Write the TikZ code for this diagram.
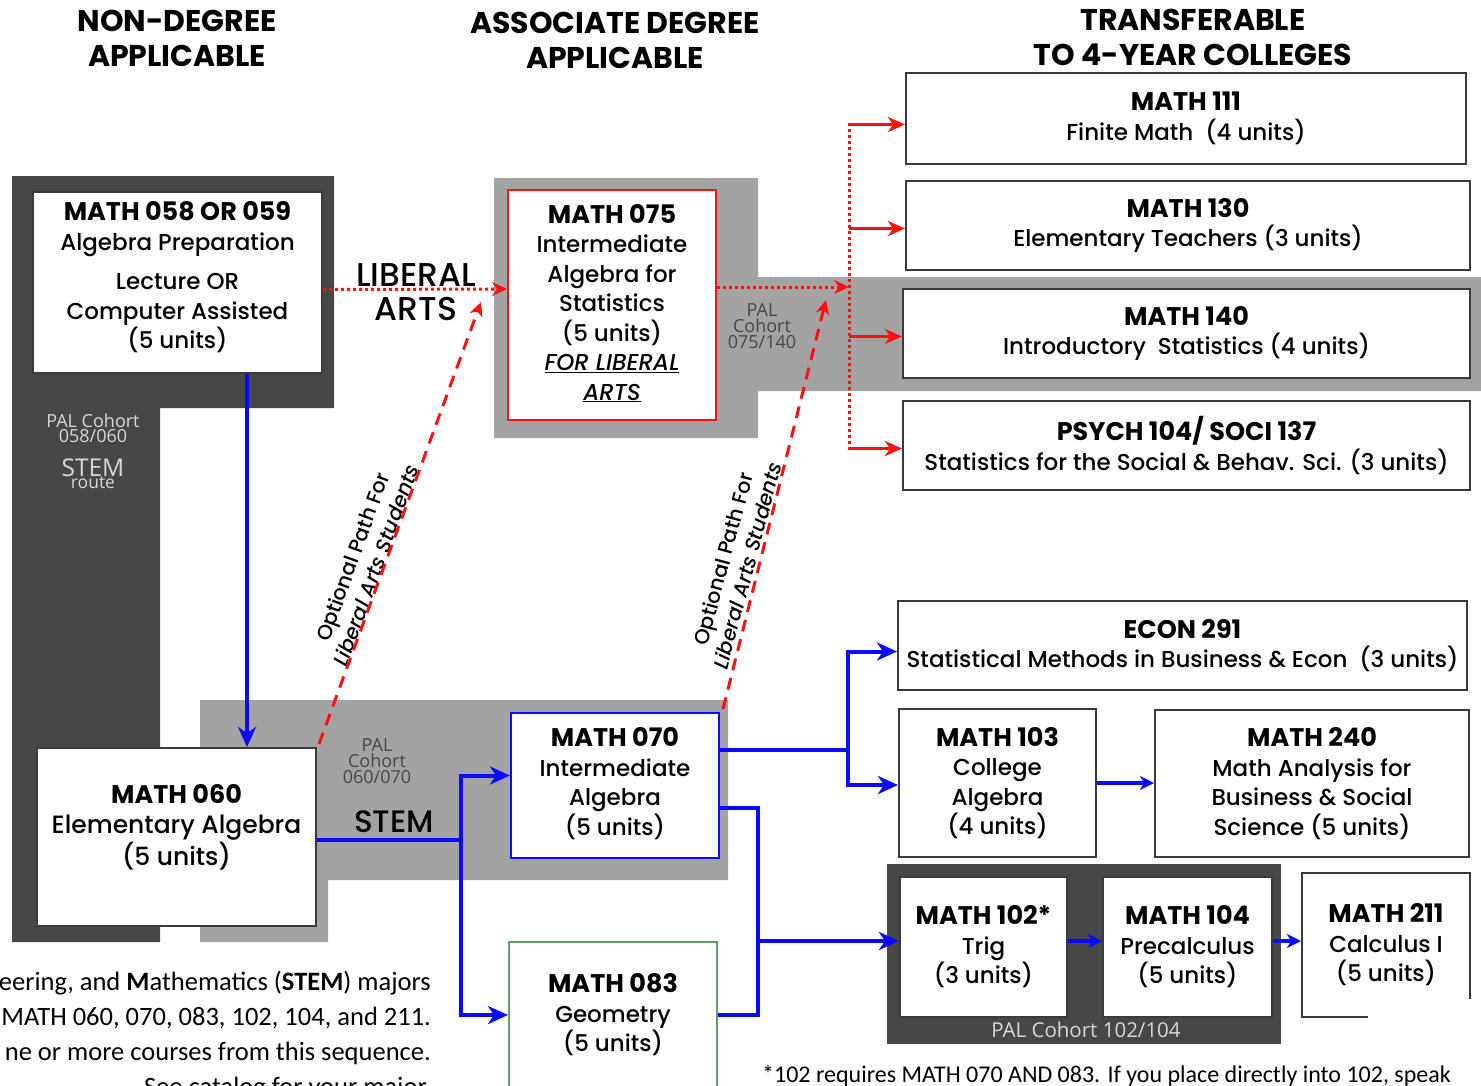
\documentclass[tikz,border=0pt]{standalone}
\usepackage{fontspec}
\setmainfont{Poppins}[UprightFont=* Medium, ItalicFont=* Medium Italic, BoldFont=* Bold]
\newfontfamily\calfont{Carlito}
\newfontfamily\palfont{Open Sans}
\usetikzlibrary{arrows.meta}
\usetikzlibrary{calc}

\definecolor{darkband}{HTML}{474747}
\definecolor{lightband}{HTML}{A3A3A3}
\definecolor{boxline}{HTML}{3A3A3A}
\definecolor{pathred}{HTML}{FF1010}
\definecolor{pathblue}{HTML}{0A0AFF}
\definecolor{geogreen}{HTML}{5E9E5E}
\definecolor{palgray}{HTML}{D8D8D8}

\newcommand{\crstitle}[1]{{\fontsize{25.5}{29.5}\selectfont\bfseries #1}}
\newcommand{\padlow}[1]{\rule[-#1]{0pt}{0pt}}

\begin{document}
\begin{tikzpicture}[line cap=butt,line join=miter,x=1pt,y=-1pt,
  course/.style={draw=boxline,line width=2pt,fill=white,align=center,inner sep=0pt,font=\fontsize{23}{29.5}\selectfont},
  bline/.style={draw=pathblue,line width=4pt},
  barrow/.style={bline,-{Stealth[length=20pt,width=18pt,inset=6pt]}},
  bshort/.style={bline,-{Stealth[length=14pt,width=14pt,inset=4pt]}},
  rdot/.style={draw=pathred,line width=3pt,dash pattern=on 3pt off 3pt},
  rarrow/.style={draw=pathred,line width=3pt,-{Stealth[length=17pt,width=15pt,inset=5pt]}},
  rdash/.style={draw=pathred,line width=3pt,dash pattern=on 12pt off 8pt},
  head/.style={font=\fontsize{30}{35}\selectfont\bfseries,align=center},
  pal/.style={align=center,inner sep=0pt}]
\useasboundingbox (0,0) rectangle (1481,1085);
\clip (0,0) rectangle (1481,1085);

% cohort bands
\fill[darkband] (12,176) -- (334,176) -- (334,408) -- (160,408) -- (160,942) -- (12,942) -- cycle;
\fill[lightband] (200,700) -- (728,700) -- (728,880) -- (328,880) -- (328,942) -- (200,942) -- cycle;
\fill[lightband] (494,178) -- (758,178) -- (758,277) -- (1481,277) -- (1481,391) -- (758,391) -- (758,438) -- (494,438) -- cycle;
\fill[darkband] (887,864) rectangle (1281,1044);

% column heads
\node[head] (hnon) at (177,38) {NON-DEGREE\\APPLICABLE};
\node[head] (hassoc) at (615,40) {ASSOCIATE DEGREE\\APPLICABLE};
\node[head] (htrans) at (1193,37) {TRANSFERABLE\\TO 4-YEAR COLLEGES};

% courses
\node[course,minimum width=289pt,minimum height=181pt] (m058) at (177.5,282.5) {\crstitle{MATH 058 OR 059}\\Algebra Preparation\\[10pt]Lecture OR\\Computer Assisted\\(5 units)\padlow{15pt}};
\node[course,draw=pathred,minimum width=208pt,minimum height=230pt] (m075) at (612,305) {\crstitle{MATH 075}\\Intermediate\\Algebra for\\Statistics\\(5 units)\\\underline{\textit{FOR LIBERAL}}\\\underline{\textit{ARTS}}\padlow{6pt}};
\node[course,minimum width=279pt,minimum height=178pt,font=\fontsize{25}{30}\selectfont] (m060) at (176.5,837) {\crstitle{MATH 060}\\Elementary Algebra\\(5 units)\padlow{24pt}};
\node[course,draw=pathblue,minimum width=208pt,minimum height=145pt] (m070) at (615,785.5) {\crstitle{MATH 070}\\Intermediate\\Algebra\\(5 units)\padlow{8pt}};
\node[course,draw=geogreen,minimum width=208pt,minimum height=146pt] (m083) at (613,1015) {\crstitle{MATH 083}\\Geometry\\(5 units)};

\node[course,minimum width=560pt,minimum height=91pt] (m111) at (1186,118.5) {\crstitle{MATH 111}\\Finite Math~~(4 units)};
\node[course,minimum width=564pt,minimum height=89pt] (m130) at (1188,225.5) {\crstitle{MATH 130}\\Elementary Teachers (3 units)};
\node[course,minimum width=567pt,minimum height=89pt] (m140) at (1186.5,333.5) {\crstitle{MATH 140}\\Introductory~~Statistics (4 units)};
\node[course,minimum width=567pt,minimum height=89pt] (p104) at (1186.5,445.5) {\crstitle{PSYCH 104/ SOCI 137}\\Statistics for the Social \& Behav. Sci. (3 units)};
\node[course,minimum width=569pt,minimum height=89pt] (e291) at (1182.5,645.5) {\crstitle{ECON 291}\\Statistical Methods in Business \& Econ~~(3 units)};
\node[course,minimum width=197pt,minimum height=148pt] (m103) at (997.5,783) {\crstitle{MATH 103}\\College\\Algebra\\(4 units)};
\node[course,minimum width=314pt,minimum height=147pt] (m240) at (1312,783.5) {\crstitle{MATH 240}\\Math Analysis for\\Business \& Social\\Science (5 units)};
\node[course,minimum width=167pt,minimum height=140pt] (m102) at (983.5,947) {\crstitle{MATH 102*}\\Trig\\(3 units)};
\node[course,minimum width=169pt,minimum height=140pt] (m104) at (1187.5,947) {\crstitle{MATH 104}\\Precalculus\\(5 units)};
\node[course,minimum width=168pt,minimum height=144pt] (m211) at (1386,945) {\crstitle{MATH 211}\\Calculus I\\(5 units)};
\fill[white] (1368,999) rectangle (1481,1030);

% labels
\node[font=\fontsize{33}{34}\selectfont,align=center] (libarts) at (416,292) {LIBERAL\\ARTS};
\node[font=\fontsize{31}{30}\selectfont] (stem) at (394,822) {STEM};
\node[pal,text=palgray,font=\palfont\fontsize{18}{15}\selectfont] (pal058) at (93,428) {PAL Cohort\\058/060};
\node[pal,text=palgray,font=\palfont] (stemroute) at (93,474) {\fontsize{24.5}{20}\selectfont STEM\\\fontsize{17.5}{15}\selectfont route};
\node[pal,text=darkband,font=\palfont\fontsize{18}{16}\selectfont] (pal075) at (762,326) {PAL\\Cohort\\075/140};
\node[pal,text=darkband,font=\palfont\fontsize{18}{16}\selectfont] (pal060) at (377,761) {PAL\\Cohort\\060/070};
\node[pal,text=palgray,font=\palfont\fontsize{20.5}{16}\selectfont] (pal102) at (1086,1030) {PAL Cohort 102/104};
\node[font=\fontsize{20.5}{25}\selectfont,align=center,rotate=70] (opt1) at (364,561) {Optional Path For\\\textit{Liberal Arts Students}};
\node[font=\fontsize{20.5}{25}\selectfont,align=center,rotate=75] (opt2) at (735,562) {Optional Path For\\\textit{Liberal Arts Students}};
\node[font=\calfont\fontsize{26.5}{35}\selectfont,anchor=north east,align=right,inner sep=0pt] (stemnote) at (431,971) {eering, and \textbf{M}athematics (\textbf{STEM}) majors\\MATH 060, 070, 083, 102, 104, and 211.\\ne or more courses from this sequence.\\See catalog for your major.};
\node[font=\calfont\fontsize{24}{26}\selectfont,anchor=west,inner sep=0pt] (trignote) at (762,1076) {*102 requires MATH 070 AND 083. If you place directly into 102, speak};

% STEM route
\coordinate (drop) at (247,0);
\coordinate (stemsplit) at (461,840);
\coordinate (bizsplit) at (848,750);
\coordinate (trigsplit) at (758,941);
\draw[barrow] (m058.south -| drop) -- (m060.north -| drop);
\draw[bline] (m060.east |- stemsplit) -- (stemsplit);
\draw[barrow] (stemsplit) |- ($(m070.west)+(0,-10)$);
\draw[barrow] (stemsplit) |- (m083.west);
\draw[bline] (m070.east |- bizsplit) -- (bizsplit);
\draw[barrow] (bizsplit) |- ($(e291.west)+(0,6)$);
\draw[barrow] (bizsplit) |- ($(m103.west)+(0,2)$);
\draw[bline] ($(m070.east)+(0,22)$) -| (trigsplit) |- (m083.east);
\draw[barrow] (trigsplit) -- (trigsplit -| m102.west);
\draw[bshort] (m103.east) -- (m103.east -| m240.west);
\draw[bshort] ($(m102.east)+(0,-6)$) -- ($(m104.west)+(0,-6)$);
\draw[bshort] ($(m104.east)+(0,-6)$) -- ($(m211.west)+(0,-4)$);

% liberal arts route
\coordinate (lasplit) at (849,287);
\coordinate (opttip1) at (481,302);
\coordinate (opttip2) at (826,300);
\draw[rdot,-{Stealth[length=15pt,width=14pt,inset=5pt]}] ($(m058.east)+(0,7)$) -- ($(m075.west)+(0,-16)$);
\draw[rdot,-{Stealth[length=15pt,width=14pt,inset=5pt]}] ($(m075.east)+(0,-18)$) -- (lasplit);
\draw[rdot] ($(lasplit |- m111.west)+(0,4)$) -- ($(lasplit |- p104.west)+(0,4)$);
\foreach \crsname/\dy in {m111/6,m130/3,m140/3,p104/3}
  \draw[rarrow] ($(lasplit |- \crsname.west)+(0,\dy)$) -- ($(\crsname.west)+(0,\dy)$);
\draw[rdash,-{Stealth[length=14pt,width=13pt,inset=4pt]}] ($(m060.north east)+(2,-3)$) -- (opttip1);
\draw[rdash,-{Stealth[length=14pt,width=13pt,inset=4pt]}] ($(m070.north east)+(3,-3)$) -- (opttip2);
\end{tikzpicture}
\end{document}
